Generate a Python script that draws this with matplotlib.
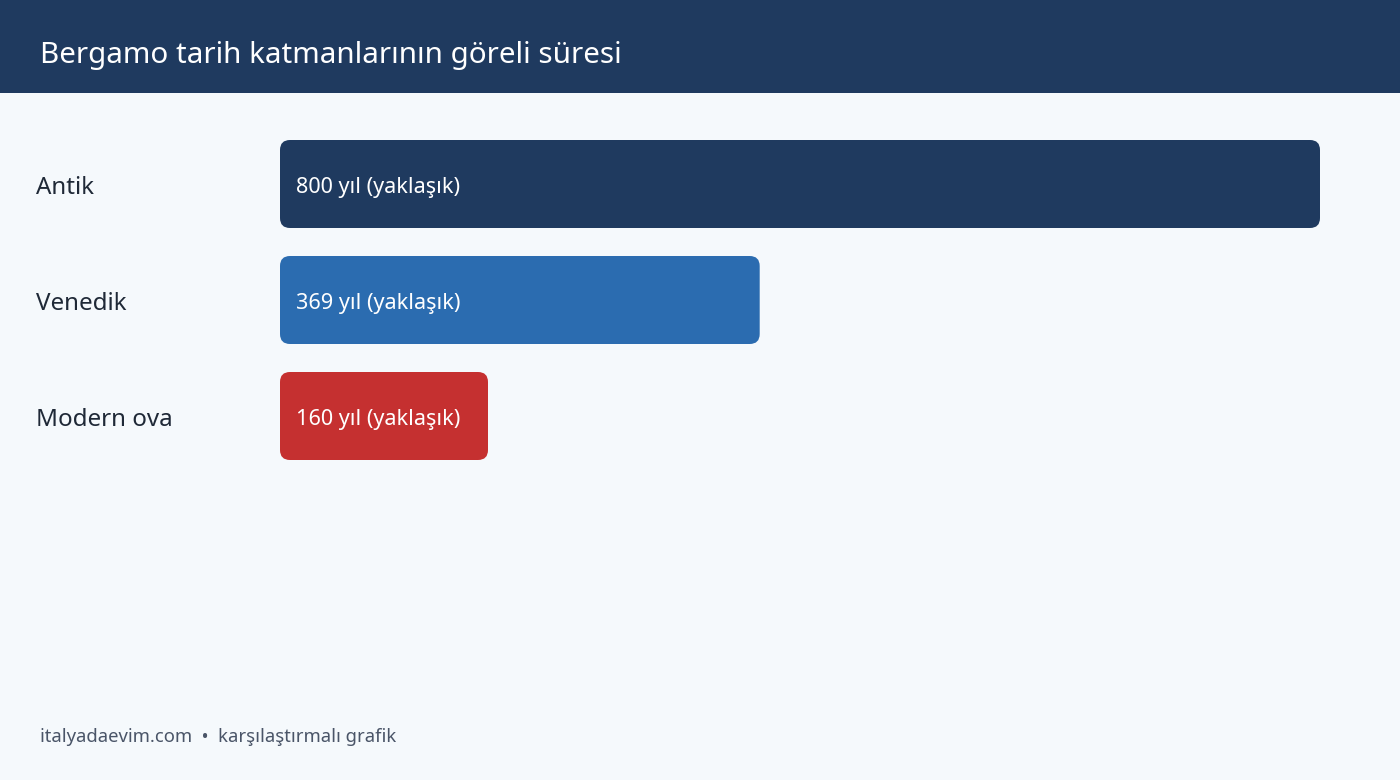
import matplotlib
matplotlib.use("Agg")
import matplotlib.pyplot as plt
from matplotlib.patches import FancyBboxPatch, Rectangle

plt.rcParams['font.family'] = ['Noto Sans', 'DejaVu Sans']

categories = ["Antik", "Venedik", "Modern ova"]
years = [800, 369, 160]
bar_labels = ["800 yıl (yaklaşık)", "369 yıl (yaklaşık)", "160 yıl (yaklaşık)"]
colors = ["#1f3a5f", "#2b6cb0", "#c53030"]

title = "Bergamo tarih katmanlarının göreli süresi"
footer = "italyadaevim.com  •  karşılaştırmalı grafik"

W, H = 1400, 780
fig = plt.figure(figsize=(W / 100, H / 100), dpi=100)
fig.patch.set_facecolor("#f5f9fc")

# header band
fig.patches.append(Rectangle((0, 1 - 93 / H), 1, 93 / H, transform=fig.transFigure,
                             facecolor="#1f3a5f", edgecolor="none", zorder=0))
fig.text(40 / W, 1 - 56 / H, title, color="white", fontsize=21.3, va="center", ha="left")

# axes: x 280..1320 px, rows 116 px apart
top_px, bot_px = 126, 474
ax = fig.add_axes([280 / W, 1 - bot_px / H, 1040 / W, (bot_px - top_px) / H])
ax.set_xlim(0, max(years))
ax.set_ylim(len(categories) - 0.5, -0.5)
ax.axis("off")

bar_h = 88 / 116
bars = ax.barh(range(len(categories)), years, height=bar_h, color="none")

# pixel -> data ratio for round corners
x_per_px = max(years) / 1040
y_per_px = len(categories) / (bot_px - top_px)
radius = 10 * x_per_px
shift = 4 * y_per_px  # nudge text down a bit

for b, c, lab, cat in zip(bars, colors, bar_labels, categories):
    x0, y0, w, h = b.get_x(), b.get_y(), b.get_width(), b.get_height()
    p = FancyBboxPatch((x0 + radius, y0 + radius * y_per_px / x_per_px),
                       w - 2 * radius, h - 2 * radius * y_per_px / x_per_px,
                       boxstyle=f"round,pad={radius},rounding_size={radius}",
                       mutation_aspect=y_per_px / x_per_px,
                       facecolor=c, edgecolor="none")
    ax.add_patch(p)
    b.remove()
    yc = y0 + h / 2 + shift
    ax.text(16 * x_per_px, yc, lab, color="white", fontsize=15.6, va="center", ha="left")
    ax.text(-244 * x_per_px, yc, cat, color="#1f2937", fontsize=17.4, va="center",
            ha="left", clip_on=False)

fig.text(40 / W, 1 - 737 / H, footer, color="#4a5568", fontsize=13.3, va="center", ha="left")

fig.savefig("out.png", dpi=100, facecolor=fig.get_facecolor())
